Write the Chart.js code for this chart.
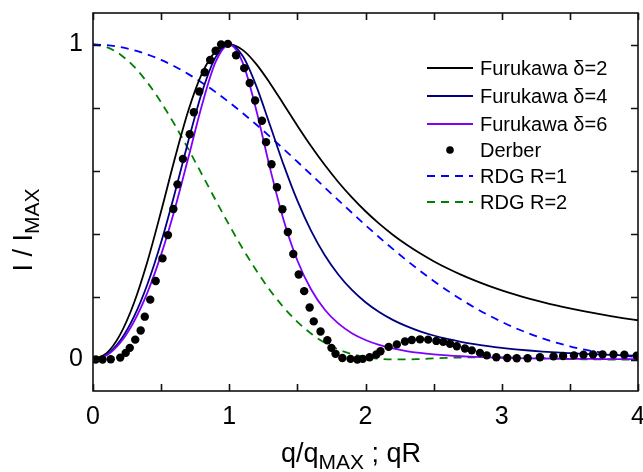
<!DOCTYPE html>
<html>
<head>
<meta charset="utf-8">
<script src="https://cdn.jsdelivr.net/npm/chart.js@4/dist/chart.umd.min.js"></script>
<style>
  html, body { margin: 0; padding: 0; background: #fff; }
</style>
</head>
<body>
<canvas id="plot" width="643" height="472"></canvas>
<script>
// q/qMAX (or qR) grid for the model curves
var q = [0, 0.1, 0.2, 0.3, 0.4, 0.5, 0.6, 0.7, 0.8, 0.9, 1.0, 1.1, 1.2, 1.3, 1.4, 1.5, 1.6, 1.7, 1.8, 1.9, 2.0,
         2.1, 2.2, 2.3, 2.4, 2.5, 2.6, 2.7, 2.8, 2.9, 3.0, 3.1, 3.2, 3.3, 3.4, 3.5, 3.6, 3.7, 3.8, 3.9, 4.0];

var furukawa2 = [0, 0.0200, 0.0799, 0.1786, 0.3120, 0.4706, 0.6374, 0.7903, 0.9081, 0.9782, 1.0000, 0.9821, 0.9370, 0.8765, 0.8097, 0.7423, 0.6778, 0.6180, 0.5636, 0.5145, 0.4706,
                 0.4313, 0.3963, 0.3650, 0.3371, 0.3120, 0.2895, 0.2693, 0.2510, 0.2345, 0.2195, 0.2059, 0.1935, 0.1821, 0.1717, 0.1622, 0.1534, 0.1453, 0.1378, 0.1309, 0.1245];
var furukawa4 = [0, 0.0150, 0.0600, 0.1350, 0.2395, 0.3721, 0.5277, 0.6942, 0.8487, 0.9599, 1.0000, 0.9625, 0.8664, 0.7427, 0.6170, 0.5041, 0.4090, 0.3317, 0.2699, 0.2208, 0.1818,
                 0.1507, 0.1258, 0.1058, 0.0895, 0.0762, 0.0652, 0.0562, 0.0486, 0.0423, 0.0369, 0.0324, 0.0286, 0.0253, 0.0224, 0.0200, 0.0178, 0.0160, 0.0144, 0.0130, 0.0117];
var furukawa6 = [0, 0.0133, 0.0533, 0.1200, 0.2133, 0.3329, 0.4773, 0.6410, 0.8081, 0.9445, 1.0000, 0.9410, 0.7891, 0.6059, 0.4415, 0.3144, 0.2229, 0.1589, 0.1145, 0.0835, 0.0618,
                 0.0463, 0.0351, 0.0269, 0.0209, 0.0164, 0.0129, 0.0103, 0.0083, 0.0067, 0.0055, 0.0045, 0.0037, 0.0031, 0.0026, 0.0022, 0.0018, 0.0016, 0.0013, 0.0011, 0.0010];
var rdg1 = [1, 0.998, 0.992, 0.9821, 0.9684, 0.9511, 0.9302, 0.9060, 0.8788, 0.8488, 0.8163, 0.7817, 0.7451, 0.7071, 0.6679, 0.6278, 0.5873, 0.5465, 0.5060, 0.4659, 0.4265,
            0.3882, 0.3511, 0.3155, 0.2816, 0.2495, 0.2193, 0.1911, 0.1651, 0.1412, 0.1195, 0.0999, 0.0824, 0.0670, 0.0535, 0.0419, 0.0321, 0.0239, 0.0171, 0.0118, 0.0076];
var rdg2 = [1, 0.992, 0.9684, 0.9302, 0.8788, 0.8163, 0.7451, 0.6679, 0.5873, 0.5060, 0.4265, 0.3511, 0.2816, 0.2193, 0.1651, 0.1195, 0.0824, 0.0535, 0.0321, 0.0171, 0.0076,
            0.0023, 0.0002, 0.0002, 0.0015, 0.0033, 0.0050, 0.0064, 0.0072, 0.0074, 0.0070, 0.0062, 0.0051, 0.0039, 0.0027, 0.0016, 0.0008, 0.0003, 0.0000, 0.0000, 0.0002];

// Derber data points
var derberQ = [0.02, 0.07, 0.13, 0.20, 0.24, 0.27, 0.31, 0.35, 0.38, 0.42, 0.46, 0.51, 0.55, 0.59, 0.62, 0.66, 0.71, 0.74, 0.78, 0.82, 0.86, 0.90, 0.94, 0.99,
               1.05, 1.11, 1.15, 1.19, 1.24, 1.27, 1.31, 1.35, 1.39, 1.43, 1.47, 1.51, 1.55, 1.59, 1.62, 1.67, 1.72, 1.75, 1.78, 1.83, 1.89, 1.94, 1.98,
               2.03, 2.08, 2.11, 2.17, 2.23, 2.29, 2.34, 2.40, 2.46, 2.52, 2.57, 2.62, 2.67, 2.73, 2.78, 2.84, 2.89, 2.96,
               3.04, 3.11, 3.19, 3.28, 3.38, 3.45, 3.53, 3.60, 3.67, 3.74, 3.82, 3.90, 3.99];
var derberI = [0.000, 0.000, 0.001, 0.006, 0.021, 0.037, 0.063, 0.092, 0.136, 0.190, 0.249, 0.321, 0.395, 0.478, 0.556, 0.637, 0.715, 0.785, 0.851, 0.912, 0.951, 0.980, 1.000, 1.002,
               0.966, 0.925, 0.878, 0.822, 0.758, 0.690, 0.620, 0.547, 0.477, 0.405, 0.335, 0.270, 0.217, 0.165, 0.121, 0.089, 0.061, 0.037, 0.018, 0.005, 0.002, 0.000, 0.002,
               0.007, 0.016, 0.026, 0.040, 0.048, 0.057, 0.062, 0.064, 0.063, 0.059, 0.056, 0.050, 0.042, 0.035, 0.029, 0.021, 0.013, 0.007,
               0.005, 0.004, 0.004, 0.007, 0.010, 0.011, 0.013, 0.015, 0.016, 0.016, 0.016, 0.015, 0.012];

var seriesNames = ['Furukawa \u03b4=2', 'Furukawa \u03b4=4', 'Furukawa \u03b4=6', 'Derber', 'RDG R=1', 'RDG R=2'];
var xTicks = [0, 0.5, 1, 1.5, 2, 2.5, 3, 3.5, 4];
var yTicks = [0, 0.2, 0.4, 0.6, 0.8, 1];

var FONT = '"Liberation Sans", Arial, sans-serif';

function curve(ys) {
	return q.map(function (v, i) { return { x: v, y: ys[i] }; });
}

// frame, inward ticks, legend and axis titles
var decor = {
	id: 'decor',
	afterDatasetsDraw: function (chart) {
		var ctx = chart.ctx, a = chart.chartArea, sx = chart.scales.x, sy = chart.scales.y;
		ctx.save();
		ctx.strokeStyle = '#111';
		ctx.lineWidth = 1.6;
		ctx.strokeRect(a.left, a.top, a.right - a.left, a.bottom - a.top);
		ctx.beginPath();
		sx.ticks.forEach(function (t) {
			var px = Math.round(sx.getPixelForValue(t.value)) + 0.5;
			ctx.moveTo(px, a.bottom); ctx.lineTo(px, a.bottom - 7);
			ctx.moveTo(px, a.top); ctx.lineTo(px, a.top + 7);
		});
		sy.ticks.forEach(function (t) {
			var py = Math.round(sy.getPixelForValue(t.value)) + 0.5;
			ctx.moveTo(a.left, py); ctx.lineTo(a.left + 7, py);
			ctx.moveTo(a.right, py); ctx.lineTo(a.right - 7, py);
		});
		ctx.stroke();

		// legend inside the plot
		var rows = [68, 96, 124, 150, 176, 202];
		ctx.font = '20px ' + FONT;
		ctx.textBaseline = 'middle';
		ctx.textAlign = 'left';
		chart.data.datasets.forEach(function (ds, i) {
			var y = rows[i];
			if (ds.showLine === false) {
				ctx.fillStyle = ds.pointBackgroundColor;
				ctx.beginPath();
				ctx.arc(450, y, 3.8, 0, Math.PI * 2);
				ctx.fill();
			} else {
				ctx.strokeStyle = ds.borderColor;
				ctx.lineWidth = ds.borderWidth;
				ctx.setLineDash(ds.borderDash || []);
				ctx.beginPath();
				ctx.moveTo(427, y); ctx.lineTo(473, y);
				ctx.stroke();
				ctx.setLineDash([]);
			}
			ctx.fillStyle = '#000';
			ctx.fillText(ds.label, 480, y + 1);
		});
		ctx.restore();
	},
	afterDraw: function (chart) {
		var ctx = chart.ctx;
		ctx.save();
		ctx.fillStyle = '#000';
		ctx.textBaseline = 'alphabetic';
		ctx.textAlign = 'left';
		var big = '27px ' + FONT, small = '21px ' + FONT;

		// x title: q/qMAX ; qR
		ctx.font = big; var w1 = ctx.measureText('q/q').width; var w3 = ctx.measureText(' ; qR').width;
		ctx.font = small; var w2 = ctx.measureText('MAX').width;
		var x0 = 351 - (w1 + w2 + w3) / 2, base = 462;
		ctx.font = big; ctx.fillText('q/q', x0, base);
		ctx.font = small; ctx.fillText('MAX', x0 + w1, base + 7);
		ctx.font = big; ctx.fillText(' ; qR', x0 + w1 + w2, base);

		// y title: I / IMAX
		ctx.translate(32, 230);
		ctx.rotate(-Math.PI / 2);
		ctx.font = big; var v1 = ctx.measureText('I / I').width;
		ctx.font = small; var v2 = ctx.measureText('MAX').width;
		var s = -(v1 + v2) / 2;
		ctx.font = big; ctx.fillText('I / I', s, 0);
		ctx.font = small; ctx.fillText('MAX', s + v1, 7);
		ctx.restore();
	}
};

var ctx = document.getElementById('plot').getContext('2d');
var chart = new Chart(ctx, {
	type: 'scatter',
	data: {
		datasets: [
			{ label: seriesNames[0], data: curve(furukawa2), showLine: true, borderColor: '#000000', borderWidth: 1.8, pointRadius: 0, cubicInterpolationMode: 'monotone', order: 5 },
			{ label: seriesNames[1], data: curve(furukawa4), showLine: true, borderColor: '#000080', borderWidth: 1.8, pointRadius: 0, cubicInterpolationMode: 'monotone', order: 4 },
			{ label: seriesNames[2], data: curve(furukawa6), showLine: true, borderColor: '#8000ff', borderWidth: 1.8, pointRadius: 0, cubicInterpolationMode: 'monotone', order: 3 },
			{
				label: seriesNames[3],
				data: derberQ.map(function (v, i) { return { x: v, y: derberI[i] }; }),
				showLine: false, pointRadius: 4.2, pointBackgroundColor: '#000', pointBorderWidth: 0, order: 0,
			},
			{ label: seriesNames[4], data: curve(rdg1), showLine: true, borderColor: '#0000ff', borderWidth: 1.8, borderDash: [8, 6], pointRadius: 0, cubicInterpolationMode: 'monotone', order: 6 },
			{ label: seriesNames[5], data: curve(rdg2), showLine: true, borderColor: '#008000', borderWidth: 1.8, borderDash: [8, 6], pointRadius: 0, cubicInterpolationMode: 'monotone', order: 7 },
		],
	},
	options: {
		responsive: false,
		animation: false,
		devicePixelRatio: 1,
		layout: { padding: { left: 0, right: 5, top: 13, bottom: 0 } },
		plugins: { legend: { display: false }, tooltip: { enabled: false } },
		scales: {
			x: {
				type: 'linear', min: 0, max: 4,
				afterBuildTicks: function (s) { s.ticks = xTicks.map(function (v) { return { value: v }; }); },
				afterFit: function (s) { s.height = 81; s.paddingLeft = 0; s.paddingRight = 0; },
				grid: { display: false, drawTicks: false },
				border: { display: false },
				ticks: {
					autoSkip: false, maxRotation: 0, padding: 11, color: '#000',
					font: { family: FONT, size: 25 },
					callback: function (v) { return Number.isInteger(v) ? String(v) : ''; },
				},
			},
			y: {
				type: 'linear', min: -0.1, max: 1.1,
				afterBuildTicks: function (s) { s.ticks = yTicks.map(function (v) { return { value: v }; }); },
				afterFit: function (s) { s.width = 93; s.paddingTop = 0; s.paddingBottom = 0; },
				grid: { display: false, drawTicks: false },
				border: { display: false },
				ticks: {
					autoSkip: false, padding: 10, color: '#000',
					font: { family: FONT, size: 25 },
					callback: function (v) { return Number.isInteger(v) ? String(v) : ''; },
				},
			},
		},
	},
	plugins: [decor],
});
</script>
</body>
</html>
